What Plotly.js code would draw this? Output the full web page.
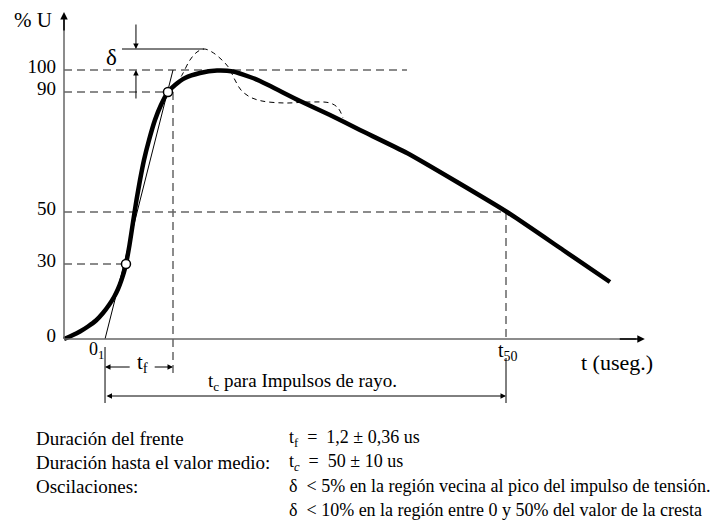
<!DOCTYPE html>
<html><head><meta charset="utf-8">
<script src="https://cdn.plot.ly/plotly-3.0.1.min.js"></script>
<style>html,body{margin:0;padding:0;background:#fff}</style>
</head><body><div id="chart" style="width:718px;height:524px"></div>
<script>
// Schematic units: t = time (arbitrary, t50 = 50), u = drawn height (30 % level = 30)
const tMain = [0, 0.9, 1.81, 2.71, 3.62, 4.41, 5.09, 5.66, 6.11, 6.5, 6.79, 7.01, 7.41, 7.81, 8.2, 8.6, 9.05, 9.62, 10.29, 10.97, 11.76, 12.56, 13.69, 15.38, 17.31, 19.12, 21.04, 22.17, 26.7, 30.09, 33.48, 38.8, 44.46, 50.11, 56.45, 61.76];
const uMain = [0, 1.4, 3.0, 5.0, 7.4, 10.4, 13.6, 16.8, 20.0, 23.6, 26.8, 30, 37.6, 46.8, 55.6, 63.6, 71.6, 79.6, 87.6, 93.6, 98.8, 101.6, 104.4, 106.4, 107.4, 107.0, 104.8, 103.2, 95.2, 89.6, 83.6, 74.4, 62.8, 50.8, 35.6, 22.8];
const tOsc = [12.67, 13.35, 14.25, 15.05, 15.84, 16.74, 17.87, 18.67, 19.34, 20.02, 21.04, 22.4, 25.0, 27.83, 30.09, 31.0, 31.56];
const uOsc = [102, 105.6, 111.6, 114.8, 116, 114.8, 111.6, 108.4, 103.6, 99.6, 96.8, 95.2, 94.4, 94.8, 94.4, 92.4, 88.4];
const tPoints = [7.01, 11.76];          // 30 % and 90 % points
const uPoints = [30, 98.8];
const yTickPos = [0, 30, 50.8, 98.8, 107.6];
const yTickText = ['0', '30', '50', '90', '100'];
const tOrigin1 = 4.64;   // 0_1
const tFront = 12.33;    // t_f
const t50 = 50;          // t_50
const tGuide100End = 38.8;
const tAxisEnd = 65.7, uAxisEnd = 130.8;
const uDelta = 116;      // crest of the oscillation
const tDeltaStart = 6.56, tDeltaArrow = 8.14;

const W = 718, H = 524, X0 = 64, Y0 = 339, SX = 8.84, SY = 2.5;
const px = p => p / W, py = p => 1 - p / H;
const FONT = 'Liberation Serif, Times New Roman, serif';

const dashGrey = {color: '#666', width: 1.5, dash: '8px,5px'};
function line(x, y, l) { return {x, y, mode: 'lines', line: l, hoverinfo: 'skip', showlegend: false}; }

const traces = [
  line([0, tGuide100End], [yTickPos[4], yTickPos[4]], dashGrey),
  line([0, tPoints[1]], [yTickPos[3], yTickPos[3]], dashGrey),
  line([0, t50], [yTickPos[2], yTickPos[2]], dashGrey),
  line([0, tPoints[0]], [yTickPos[1], yTickPos[1]], dashGrey),
  line([tFront, tFront], [yTickPos[3], -13.6], dashGrey),
  line([t50, t50], [yTickPos[2], 0], dashGrey),
  line([tOrigin1, tFront], [0, yTickPos[4]], {color: '#000', width: 1}),
  {x: tOsc, y: uOsc, mode: 'lines', line: {color: '#000', width: 1, dash: '5px,4px', shape: 'spline', smoothing: 1}, hoverinfo: 'skip', showlegend: false},
  {x: tMain, y: uMain, mode: 'lines', line: {color: '#000', width: 4.5, shape: 'spline', smoothing: 0.5}, hoverinfo: 'skip', showlegend: false},
  {x: tPoints, y: uPoints, mode: 'markers', marker: {size: 9, color: '#fff', line: {color: '#000', width: 1.5}}, hoverinfo: 'skip', showlegend: false}
];

const shapes = [
  {type: 'line', xref: 'x', yref: 'y', x0: 0, y0: 0, x1: tAxisEnd - 1, y1: 0, line: {color: '#666', width: 1.5}},
  {type: 'line', xref: 'x', yref: 'y', x0: 0, y0: 0, x1: 0, y1: uAxisEnd - 3, line: {color: '#666', width: 1.5}},
  {type: 'line', xref: 'x', yref: 'y', x0: tDeltaStart, y0: uDelta, x1: tOsc[4], y1: uDelta, line: {color: '#000', width: 1}},
  {type: 'line', xref: 'x', yref: 'y', x0: tOrigin1, y0: -3.2, x1: tOrigin1, y1: -25.6, line: {color: '#000', width: 1}},
  {type: 'line', xref: 'x', yref: 'y', x0: t50, y0: -7.6, x1: t50, y1: -25.6, line: {color: '#000', width: 1}}
];

function arrow(x, y, ax, ay, extra) {
  return Object.assign({x, y, ax, ay, xref: 'x', yref: 'y', axref: 'x', ayref: 'y', text: '', showarrow: true,
    arrowhead: 2, arrowsize: 1.1, arrowwidth: 1, arrowcolor: '#000'}, extra || {});
}
function txt(text, x, y, size, anchor, extra) {
  return Object.assign({text, x: px(x), y: py(y), xref: 'paper', yref: 'paper', showarrow: false,
    xanchor: anchor || 'center', yanchor: 'middle', font: {family: FONT, size, color: '#000'}}, extra || {});
}

const annotations = [
  arrow(tAxisEnd, 0, tAxisEnd - 3, 0, {arrowwidth: 1.5, arrowsize: 1}),
  arrow(0, uAxisEnd, 0, uAxisEnd - 8, {arrowwidth: 1.5, arrowsize: 1}),
  arrow(tDeltaArrow, uDelta, tDeltaArrow, 126.4),
  arrow(tDeltaArrow, yTickPos[4], tDeltaArrow, 95.6),
  arrow(tOrigin1, -11.2, 7.6, -11.2),
  arrow(tFront, -11.2, 10.09, -11.2),
  arrow(t50, -22.8, tOrigin1, -22.8, {arrowside: 'end+start'}),
  txt('% U', 33, 20, 21),
  txt('δ', 111, 57, 23),
  txt('0<sub>1</sub>', 96, 350, 18),
  txt('t<sub>f</sub>', 142, 363, 21),
  txt('t<sub>50</sub>', 508, 351, 20),
  txt('t (useg.)', 617, 362, 22),
  txt('t<sub>c</sub> para Impulsos de rayo.', 302, 382, 19),
  txt('Duración del frente', 34, 438, 19, 'left'),
  txt('Duración hasta el valor medio:', 34, 462, 19, 'left'),
  txt('Oscilaciones:', 34, 486, 19, 'left'),
  txt('t<sub>f</sub>  =  1,2 ± 0,36 us', 287, 438, 18, 'left'),
  txt('t<sub><i>c</i></sub>  =  50 ± 10 us', 287, 462, 18, 'left'),
  txt('δ  < 5% en la región vecina al pico del impulso de tensión.', 287, 486, 18, 'left'),
  txt('δ  < 10% en la región entre 0 y 50% del valor de la cresta', 287, 510, 18, 'left')
];

const layout = {
  width: W, height: H, margin: {l: 0, r: 0, t: 0, b: 0},
  paper_bgcolor: '#fff', plot_bgcolor: '#fff',
  xaxis: {range: [-X0 / SX, (W - X0) / SX], visible: false, fixedrange: true},
  yaxis: {range: [(Y0 - H) / SY, Y0 / SY], anchor: 'free', position: X0 / W, automargin: false,
    tickvals: yTickPos, ticktext: yTickText, ticks: '', showgrid: false, zeroline: false, showline: false,
    ticklabelstandoff: 8, ticklabelshift: -4, tickfont: {family: FONT, size: 19, color: '#000'}, fixedrange: true},
  shapes, annotations, showlegend: false
};
Plotly.newPlot('chart', traces, layout, {displayModeBar: false, staticPlot: true});
</script></body></html>
